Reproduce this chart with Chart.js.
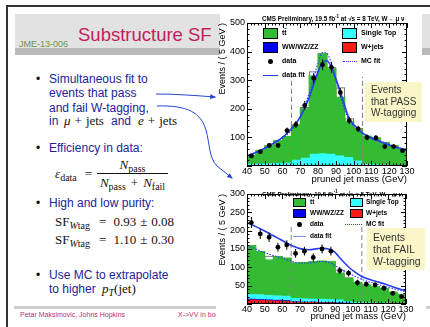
<!DOCTYPE html>
<html>
<head>
<meta charset="utf-8">
<title>Substructure SF</title>
<script src="https://cdn.jsdelivr.net/npm/chart.js@4.4.1/dist/chart.umd.min.js"></script>
<style>
html, body { margin: 0; padding: 0; background: #fff; }
#slide { position: relative; width: 430px; height: 327px; overflow: hidden; font-family: "Liberation Sans", Arial, sans-serif; }
.a { position: absolute; white-space: nowrap; }
.txt { font-size: 12px; line-height: 14px; color: #22229a; }
.bul { font-size: 12px; line-height: 14px; color: #111; }
.m { font-family: "Liberation Serif", "DejaVu Serif", serif; font-size: 13px; line-height: 14px; color: #111; }
.sub { font-size: 10px; position: relative; top: 3px; }
.leg { font-weight: bold; color: #000; }
.box { border: 1px solid #000; box-sizing: border-box; }
.note { background: #fbf6c8; color: #333; box-sizing: border-box; }
.cms { font-weight: bold; color: #000; }
</style>
</head>
<body>
<div id="slide">
  <!-- slide frame, header and footer -->
  <div class="a" style="left:6px;top:5px;width:424px;height:2px;background:#333"></div>
  <div class="a" style="left:6px;top:5px;width:2px;height:322px;background:#333"></div>
  <div class="a" style="left:15px;top:14px;width:415px;height:34px;background:#e2e2e2"></div>
  <div class="a" style="left:15px;top:48px;width:415px;height:7px;background:#b9b9b9"></div>
  <div class="a" style="left:78px;top:24px;font-size:18.5px;line-height:22px;color:#c41c5c">Substructure SF</div>
  <div class="a" style="left:19px;top:38.5px;font-size:9px;line-height:11px;color:#6f9440">JME-13-006</div>
  <div class="a" style="left:14px;top:306px;width:416px;height:2.5px;background:#cfcfcf"></div>
  <div class="a" style="left:20px;top:311px;font-size:7px;line-height:8px;color:#c2306e">Petar Maksimovic, Johns Hopkins</div>
  <div class="a" style="left:178px;top:311px;font-size:7px;line-height:8px;color:#c2306e">X-&gt;VV in boosted topologies</div>

  <!-- bullets -->
  <div class="a bul" style="left:36px;top:72px">•</div>
  <div class="a txt" style="left:49px;top:72px">Simultaneous fit to</div>
  <div class="a txt" style="left:49px;top:86px">events that pass</div>
  <div class="a txt" style="left:49px;top:100.5px">and fail W-tagging,</div>
  <div class="a txt" style="left:49px;top:114px">in</div>
  <div class="a m" style="left:64px;top:113.5px"><i>μ</i><span style="margin:0 4px">+</span>jets</div>
  <div class="a txt" style="left:111px;top:114px">and</div>
  <div class="a m" style="left:138px;top:113.5px"><i>e</i><span style="margin:0 4px">+</span>jets</div>

  <div class="a bul" style="left:36px;top:141px">•</div>
  <div class="a txt" style="left:49px;top:141px">Efficiency in data:</div>
  <div class="a m" style="left:55px;top:167px"><i>ε</i><span class="sub">data</span><span style="margin-left:8px">=</span></div>
  <div class="a m" style="left:97px;top:158px;width:71px;text-align:center"><i>N</i><span class="sub">pass</span></div>
  <div class="a" style="left:97px;top:173px;width:71px;height:1px;background:#111"></div>
  <div class="a m" style="left:97px;top:176px;width:71px;text-align:center"><i>N</i><span class="sub">pass</span><span style="margin:0 5px">+</span><i>N</i><span class="sub">fail</span></div>

  <div class="a bul" style="left:36px;top:196px">•</div>
  <div class="a txt" style="left:49px;top:196px">High and low purity:</div>
  <div class="a m" style="left:55px;top:214.5px">SF<span class="sub"><i>W</i>tag</span><span style="margin:0 7px 0 9px">=</span>0.93<span style="margin:0 4px">±</span>0.08</div>
  <div class="a m" style="left:55px;top:233px">SF<span class="sub"><i>W</i>tag</span><span style="margin:0 7px 0 9px">=</span>1.10<span style="margin:0 4px">±</span>0.30</div>

  <div class="a bul" style="left:36px;top:268px">•</div>
  <div class="a txt" style="left:49px;top:268px">Use MC to extrapolate</div>
  <div class="a txt" style="left:49px;top:282px">to higher</div>
  <div class="a m" style="left:102px;top:281.5px"><i>p</i><span class="sub"><i>T</i></span>(jet)</div>

  <!-- plot backgrounds -->
  <div class="a" style="left:220px;top:7px;width:202px;height:179px;background:#fff"></div>
  <div class="a" style="left:216px;top:186px;width:210px;height:141px;background:#fff"></div>

  <canvas id="passPlot" class="a" width="200" height="174" style="left:216px;top:12px"></canvas>
  <canvas id="failPlot" class="a" width="200" height="141" style="left:216px;top:186px"></canvas>

  <!-- pass plot annotations -->
  <div class="a cms" style="left:262px;top:13px;font-size:6.3px;line-height:8px">CMS Preliminary, 19.5 fb<sup style="font-size:4.5px">-1</sup> at √s = 8 TeV, W→ μ ν</div>
  <div class="a box" style="left:263px;top:28px;width:15px;height:11px;background:#33bb33"></div>
  <div class="a leg" style="left:282px;top:29px;font-size:7px;line-height:8px">tt̄</div>
  <div class="a box" style="left:342px;top:28px;width:15px;height:11px;background:#33ffff"></div>
  <div class="a leg" style="left:361px;top:29px;font-size:7px;line-height:8px">Single Top</div>
  <div class="a box" style="left:263px;top:42px;width:15px;height:11px;background:#0000ee"></div>
  <div class="a leg" style="left:282px;top:43px;font-size:7px;line-height:8px">WW/WZ/ZZ</div>
  <div class="a box" style="left:342px;top:42px;width:15px;height:11px;background:#ff1a1a"></div>
  <div class="a leg" style="left:361px;top:43px;font-size:7px;line-height:8px">W+jets</div>
  <div class="a" style="left:268px;top:58.5px;width:5px;height:5px;border-radius:50%;background:#000"></div>
  <div class="a leg" style="left:282px;top:57px;font-size:7px;line-height:8px">data</div>
  <div class="a" style="left:343px;top:60.5px;width:14px;border-top:1.2px dotted #2a3cf0"></div>
  <div class="a leg" style="left:361px;top:57px;font-size:7px;line-height:8px">MC fit</div>
  <div class="a" style="left:263px;top:74.5px;width:15px;border-top:1.5px solid #2a3cf0"></div>
  <div class="a leg" style="left:282px;top:71px;font-size:7px;line-height:8px">data fit</div>
  <div class="a note" style="left:365px;top:82px;width:57px;height:40px;font-size:10px;line-height:11.5px;padding:2px 0 0 6px">Events<br>that PASS<br>W-tagging</div>

  <!-- fail plot annotations -->
  <div class="a cms" style="left:262px;top:188px;font-size:6.2px;line-height:8px">CMS Preliminary, 19.5 fb<sup style="font-size:4.5px">-1</sup> at √s = 8 TeV, W→ μ ν</div>
  <div class="a box" style="left:293px;top:198px;width:13px;height:9px;background:#33bb33"></div>
  <div class="a leg" style="left:310px;top:198px;font-size:6.5px;line-height:8px">tt̄</div>
  <div class="a box" style="left:350px;top:198px;width:13px;height:9px;background:#33ffff"></div>
  <div class="a leg" style="left:366px;top:198px;font-size:6.5px;line-height:8px">Single Top</div>
  <div class="a box" style="left:293px;top:209px;width:13px;height:9px;background:#0000ee"></div>
  <div class="a leg" style="left:310px;top:209px;font-size:6.5px;line-height:8px">WW/WZ/ZZ</div>
  <div class="a box" style="left:350px;top:209px;width:13px;height:9px;background:#ff1a1a"></div>
  <div class="a leg" style="left:366px;top:209px;font-size:6.5px;line-height:8px">W+jets</div>
  <div class="a" style="left:297px;top:222px;width:4.5px;height:4.5px;border-radius:50%;background:#000"></div>
  <div class="a leg" style="left:310px;top:220px;font-size:6.5px;line-height:8px">data</div>
  <div class="a" style="left:345px;top:224px;width:17px;border-top:1.2px dotted #2a3cf0"></div>
  <div class="a leg" style="left:366px;top:220px;font-size:6.5px;line-height:8px">MC fit</div>
  <div class="a" style="left:293px;top:235.5px;width:13px;border-top:1.5px solid #7d8cf5"></div>
  <div class="a leg" style="left:310px;top:232px;font-size:6.5px;line-height:8px">data fit</div>
  <div class="a note" style="left:367px;top:228px;width:58px;height:42px;font-size:10.5px;line-height:12px;padding:3px 0 0 6px">Events<br>that FAIL<br>W-tagging</div>

  <!-- hand-drawn arrows from the text to the plots -->
  <svg class="a" style="left:0;top:0" width="430" height="327">
    <defs>
      <marker id="head" viewBox="0 0 10 10" refX="8" refY="5" markerWidth="6" markerHeight="6" orient="auto">
        <path d="M0,1 L10,5 L0,9 z" fill="#2346d8"></path>
      </marker>
    </defs>
    <path d="M156,94 C175,94 195,95.5 215,97" fill="none" stroke="#2346d8" stroke-width="1" marker-end="url(#head)"></path>
    <path d="M157,106 C188,105 201,113 206,130 C210,145 209,158 217,166 L232,178" fill="none" stroke="#2346d8" stroke-width="1" marker-end="url(#head)"></path>
  </svg>
</div>

<script>
Chart.defaults.font.family = '"Liberation Sans", Arial, sans-serif';
Chart.defaults.color = '#000';

// 5 GeV bins between 40 and 130 GeV (centres)
const massBins = [42.5, 47.5, 52.5, 57.5, 62.5, 67.5, 72.5, 77.5, 82.5, 87.5, 92.5, 97.5, 102.5, 107.5, 112.5, 117.5, 122.5, 127.5];
const massTicks = [40, 50, 60, 70, 80, 90, 100, 110, 120, 130];
// points where the fitted shapes are sampled
const fitMass = [40, 45, 50, 55, 60, 65, 70, 75, 80, 82.5, 85, 87.5, 90, 92.5, 95, 97.5, 100, 105, 110, 115, 120, 125, 130];
// W mass window
const windowEdges = [65, 105];

// events that pass the W tag
const passWjets = [2, 2, 2, 2, 2, 2, 2, 3, 3, 3, 3, 3, 2, 2, 2, 2, 2, 2];
const passDiboson = [1, 1, 1, 1, 1, 1, 2, 3, 3, 3, 3, 2, 2, 1, 1, 1, 1, 1];
const passSingleTop = [7, 8, 9, 10, 11, 21, 27, 39, 41, 39, 33, 28, 17, 7, 5, 4, 3, 2];
const passTtbar = [27, 43, 58, 75, 89, 119, 169, 270, 345, 295, 201, 122, 107, 94, 90, 75, 65, 55];
const passEnvelope = [37, 54, 71, 88, 104, 143, 205, 330, 395, 346, 274, 166, 133, 104, 98, 82, 71, 60];
const passData = [35, 50, 72, 72, 124, 145, 212, 307, 354, 345, 257, 159, 130, 100, 98, 68, 68, 53];
const passErr = [6, 7, 8, 8, 11, 12, 15, 18, 19, 19, 16, 13, 11, 10, 10, 8, 8, 7];
const passDataFit = [36, 47, 62, 80, 100, 130, 172, 240, 330, 362, 368, 345, 305, 260, 210, 165, 145, 115, 97, 85, 73, 64, 55];
const passMcFit = [35, 48, 62, 80, 98, 125, 175, 255, 360, 397, 393, 360, 300, 245, 195, 160, 140, 115, 100, 88, 76, 65, 56];
const passYTicks = [100, 200, 300, 400, 500];

// events that fail the W tag
const failWjets = [14, 13, 12, 11, 10, 8, 7, 7, 6, 6, 5, 4, 3, 3, 3, 2, 2, 2];
const failDiboson = [2, 2, 2, 2, 2, 1, 1, 1, 1, 1, 1, 1, 1, 1, 1, 1, 1, 1];
const failSingleTop = [13, 13, 12, 12, 12, 9, 9, 8, 9, 8, 8, 4, 3, 2, 1, 2, 1, 1];
const failTtbar = [130, 115, 94, 104, 101, 93, 96, 99, 101, 100, 70, 61, 52, 46, 42, 38, 28, 22];
const failEnvelope = [159, 143, 131, 131, 125, 113, 113, 115, 117, 117, 93, 72, 59, 52, 47, 43, 33, 27];
const failData = [222, 191, 182, 155, 161, 138, 144, 127, 150, 144, 91, 84, 58, 54, 52, 43, 29, 20];
const failErr = [15, 14, 13, 12, 13, 12, 12, 11, 12, 12, 10, 9, 8, 7, 7, 7, 5, 4];
const failDataFit = [222, 211, 199, 186, 173, 160, 151, 148, 151, 152, 151, 148, 140, 126, 113, 101, 91, 75, 66, 59, 51, 43, 36];
const failMcFit = [159, 150, 140, 132, 125, 117, 112, 112, 115, 116, 115, 111, 104, 97, 90, 84, 78, 67, 59, 52, 45, 39, 33];
const failYTicks = [50, 100, 150, 200, 250, 300];

// ROOT style frame with inward ticks on all four sides
const frameTicks = {
  id: 'frameTicks',
  afterDraw(chart, args, opts) {
    const { ctx, chartArea: a } = chart;
    const xs = chart.scales.x, ys = chart.scales.y;
    ctx.save();
    ctx.strokeStyle = '#000';
    ctx.lineWidth = 1;
    ctx.beginPath();
    for (let v = xs.min; v <= xs.max + 1e-6; v += opts.xMinor) {
      const px = Math.round(xs.getPixelForValue(v)) + 0.5;
      const len = Math.abs(v % opts.xMajor) < 1e-6 ? 5 : 2.5;
      ctx.moveTo(px, a.bottom); ctx.lineTo(px, a.bottom - len);
      ctx.moveTo(px, a.top); ctx.lineTo(px, a.top + len);
    }
    for (let v = ys.min; v <= ys.max + 1e-6; v += opts.yMinor) {
      const py = Math.round(ys.getPixelForValue(v)) + 0.5;
      const len = Math.abs(v % opts.yMajor) < 1e-6 ? 5 : 2.5;
      ctx.moveTo(a.left, py); ctx.lineTo(a.left + len, py);
      ctx.moveTo(a.right, py); ctx.lineTo(a.right - len, py);
    }
    ctx.stroke();
    ctx.strokeRect(Math.round(a.left) + 0.5, Math.round(a.top) + 0.5, Math.round(a.width) - 1, Math.round(a.height) - 1);
    ctx.restore();
  }
};

function drawMassPlot(canvasId, s) {
  const colours = ['#ff1a1a', '#0000ee', '#33ffff', '#33bb33'];
  const names = ['W+jets', 'WW/WZ/ZZ', 'Single Top', 'tt'];
  const parts = [s.wjets, s.diboson, s.singleTop, s.ttbar];

  // stacked MC, bottom to top, as floating bars
  let base = massBins.map(() => 0);
  const stack = parts.map((vals, k) => {
    const ds = {
      type: 'bar',
      label: names[k],
      order: 9 - k,
      grouped: false,
      categoryPercentage: 1,
      barPercentage: 1,
      inflateAmount: 0.6,
      data: massBins.map((m, i) => ({ x: m, y: [base[i], base[i] + vals[i]] })),
      backgroundColor: colours[k],
      borderWidth: 0
    };
    base = base.map((b, i) => b + vals[i]);
    return ds;
  });

  const datasets = [
    {
      type: 'bar', label: 'total', order: 10, grouped: false,
      categoryPercentage: 1, barPercentage: 1,
      data: massBins.map((m, i) => ({ x: m, y: s.envelope[i] })),
      backgroundColor: '#ffffff',
      borderColor: '#666',
      borderWidth: { top: 1, left: 1, right: 1, bottom: 0 }
    },
    ...stack,
    {
      // dark edge along the top of the stack
      type: 'bar', label: 'stack edge', order: 6, grouped: false,
      categoryPercentage: 1, barPercentage: 1, inflateAmount: 0,
      data: massBins.map((m, i) => ({ x: m, y: base[i] })),
      backgroundColor: 'rgba(0,0,0,0)',
      borderColor: '#2f4f2f',
      borderWidth: { top: 1, left: 0, right: 0, bottom: 0 }
    },
    ...windowEdges.map(e => ({
      type: 'line', label: 'window', order: 5,
      data: [{ x: e, y: 0 }, { x: e, y: s.windowTop }],
      borderColor: '#808080', borderWidth: 1, borderDash: [5, 3], pointRadius: 0
    })),
    {
      type: 'line', label: 'MC fit', order: 4,
      data: fitMass.map((m, i) => ({ x: m, y: s.mcFit[i] })),
      borderColor: '#2a3cf0', borderWidth: 1.1, borderDash: [1.5, 1.5],
      pointRadius: 0, cubicInterpolationMode: 'monotone'
    },
    {
      type: 'line', label: 'data fit', order: 3,
      data: fitMass.map((m, i) => ({ x: m, y: s.dataFit[i] })),
      borderColor: '#2a3cf0', borderWidth: 1.6,
      pointRadius: 0, cubicInterpolationMode: 'monotone'
    },
    {
      type: 'bar', label: 'errors', order: 2, grouped: false,
      barThickness: 1, inflateAmount: 0,
      data: massBins.map((m, i) => ({ x: m, y: [s.data[i] - s.err[i], s.data[i] + s.err[i]] })),
      backgroundColor: '#000', borderWidth: 0
    },
    {
      type: 'line', label: 'data', order: 1, showLine: false,
      data: massBins.map((m, i) => ({ x: m, y: s.data[i] })),
      pointRadius: 2.4, pointBackgroundColor: '#000', pointBorderWidth: 0
    }
  ];

  return new Chart(document.getElementById(canvasId), {
    type: 'bar',
    data: { datasets },
    plugins: [frameTicks],
    options: {
      responsive: false,
      animation: false,
      devicePixelRatio: 1,
      events: [],
      layout: { padding: s.padding },
      plugins: {
        legend: { display: false },
        tooltip: { enabled: false },
        frameTicks: { xMinor: 2, xMajor: 10, yMinor: s.yMinor, yMajor: s.yMajor }
      },
      scales: {
        x: {
          type: 'linear', min: 40, max: 130, offset: false,
          grid: { display: false, drawTicks: false, tickLength: 0, offset: false }, border: { display: false },
          afterBuildTicks: sc => { sc.ticks = massTicks.map(v => ({ value: v })); },
          afterFit: sc => { sc.height = s.xAxisHeight; },
          ticks: { font: { size: 9 }, padding: 0, autoSkip: false, maxRotation: 0, color: '#000' },
          title: {
            display: true, text: 'pruned jet mass (GeV)', align: 'end', color: '#000',
            font: { size: 9.5 }, padding: { top: 0, bottom: 1 }
          }
        },
        y: {
          type: 'linear', min: 0, max: s.yMax,
          grid: { display: false, drawTicks: false, tickLength: 0 }, border: { display: false },
          afterBuildTicks: sc => { sc.ticks = s.yTicks.map(v => ({ value: v })); },
          afterFit: sc => { sc.width = 31; },
          ticks: { font: { size: 9 }, padding: 2, color: '#000' },
          title: {
            display: true, text: 'Events / ( 5 GeV )', align: 'end', color: '#000',
            font: { size: 9 }, padding: { top: 1, bottom: 0 }
          }
        }
      }
    }
  });
}

drawMassPlot('passPlot', {
  wjets: passWjets, diboson: passDiboson, singleTop: passSingleTop, ttbar: passTtbar,
  envelope: passEnvelope, data: passData, err: passErr,
  dataFit: passDataFit, mcFit: passMcFit,
  yTicks: passYTicks, yMax: 500, yMinor: 20, yMajor: 100, windowTop: 312,
  padding: { top: 11, right: 9, bottom: 0, left: 0 }, xAxisHeight: 20
});

drawMassPlot('failPlot', {
  wjets: failWjets, diboson: failDiboson, singleTop: failSingleTop, ttbar: failTtbar,
  envelope: failEnvelope, data: failData, err: failErr,
  dataFit: failDataFit, mcFit: failMcFit,
  yTicks: failYTicks, yMax: 300, yMinor: 10, yMajor: 50, windowTop: 211,
  padding: { top: 8, right: 10, bottom: 4, left: 0 }, xAxisHeight: 19
});
</script>
</body>
</html>
